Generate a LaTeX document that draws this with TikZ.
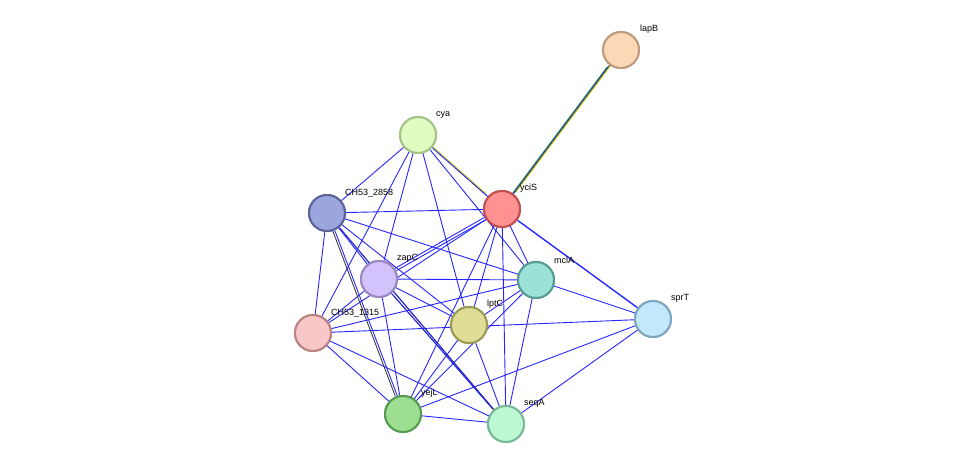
\documentclass[tikz,border=0pt]{standalone}
\usepackage{fontspec}
\setmainfont{Liberation Sans}
\begin{document}
\begin{tikzpicture}[x=1pt,y=-1pt,
 nd/.style={circle,minimum size=36pt,inner sep=0pt,line width=2pt},
 lb/.style={font=\fontsize{9}{10}\selectfont,anchor=south west,inner sep=1pt},
 e/.style={draw=blue!85!white,line width=0.9pt},
 ek/.style={draw=black!75,line width=0.9pt}]
\useasboundingbox (0,0) rectangle (975,470);
\node[nd,fill={rgb,255:red,253;green,216;blue,183},draw={rgb,255:red,190;green,155;blue,125}] (lapB) at (621,50) {};
\node[nd,fill={rgb,255:red,224;green,252;blue,192},draw={rgb,255:red,165;green,195;blue,135}] (cya) at (418,135) {};
\node[nd,fill={rgb,255:red,255;green,145;blue,145},draw={rgb,255:red,195;green,80;blue,80}] (yciS) at (502,209) {};
\node[nd,fill={rgb,255:red,155;green,165;blue,222},draw={rgb,255:red,90;green,100;blue,155}] (c2858) at (327,213) {};
\node[nd,fill={rgb,255:red,210;green,195;blue,252},draw={rgb,255:red,155;green,135;blue,190}] (zapC) at (379,279) {};
\node[nd,fill={rgb,255:red,155;green,225;blue,215},draw={rgb,255:red,85;green,155;blue,145}] (mclA) at (536,280) {};
\node[nd,fill={rgb,255:red,195;green,232;blue,252},draw={rgb,255:red,125;green,165;blue,190}] (sprT) at (653,319) {};
\node[nd,fill={rgb,255:red,224;green,222;blue,150},draw={rgb,255:red,155;green,155;blue,85}] (lptC) at (469,325) {};
\node[nd,fill={rgb,255:red,248;green,200;blue,200},draw={rgb,255:red,185;green,130;blue,130}] (c1315) at (313,333) {};
\node[nd,fill={rgb,255:red,158;green,222;blue,145},draw={rgb,255:red,85;green,155;blue,80}] (yejL) at (403,414) {};
\node[nd,fill={rgb,255:red,190;green,248;blue,210},draw={rgb,255:red,120;green,185;blue,150}] (seqA) at (506,424) {};
\begin{scope}[on background layer/.try]
\end{scope}
% edges drawn before nodes visually via pgf layers not loaded; redraw nodes after
\foreach \a/\b in {cya/c2858,cya/zapC,cya/c1315,cya/lptC,cya/mclA,
 c2858/yciS,c2858/mclA,c2858/zapC,c2858/lptC,c2858/c1315,
 yciS/c1315,yciS/yejL,yciS/lptC,yciS/seqA,yciS/mclA,
 zapC/mclA,zapC/lptC,zapC/yejL,zapC/c1315,
 mclA/c1315,mclA/lptC,mclA/yejL,mclA/seqA,mclA/sprT,
 lptC/yejL,lptC/seqA,c1315/sprT,c1315/yejL,c1315/seqA,
 yejL/seqA,yejL/sprT,seqA/sprT}
 \draw[e] (\a) -- (\b);
\draw[e,transform canvas={shift={(1pt,-1pt)}}] (cya) -- (yciS);
\draw[e,transform canvas={shift={(-1pt,1pt)}}] (cya) -- (yciS);
\draw[draw={rgb,255:red,190;green,205;blue,30},line width=0.9pt,transform canvas={shift={(-2pt,3pt)}}] (cya) -- (yciS);
\draw[e,transform canvas={shift={(1pt,-1pt)}}] (yciS) -- (zapC);
\draw[e,transform canvas={shift={(-1pt,1pt)}}] (yciS) -- (zapC);
\draw[e,transform canvas={shift={(1pt,-1pt)}}] (yciS) -- (sprT);
\draw[e,transform canvas={shift={(-1pt,1pt)}}] (yciS) -- (sprT);
\draw[ek,transform canvas={shift={(-1pt,0pt)}}] (c2858) -- (yejL);
\draw[e,transform canvas={shift={(1.2pt,0pt)}}] (c2858) -- (yejL);
\draw[ek,transform canvas={shift={(1pt,-1pt)}}] (c2858) -- (seqA);
\draw[e,transform canvas={shift={(-1pt,1pt)}}] (c2858) -- (seqA);
\draw[ek,transform canvas={shift={(1pt,-1pt)}}] (zapC) -- (seqA);
\draw[e,transform canvas={shift={(-1pt,1pt)}}] (zapC) -- (seqA);
\draw[draw={rgb,255:red,40;green,180;blue,40},line width=0.9pt,transform canvas={shift={(-2.7pt,-2pt)}}] (yciS) -- (lapB);
\draw[e,transform canvas={shift={(-0.9pt,-0.7pt)}}] (yciS) -- (lapB);
\draw[ek,transform canvas={shift={(0.9pt,0.7pt)}}] (yciS) -- (lapB);
\draw[draw={rgb,255:red,190;green,205;blue,30},line width=0.9pt,transform canvas={shift={(2.7pt,2pt)}}] (yciS) -- (lapB);
% redraw nodes on top
\foreach \n in {lapB,cya,yciS,c2858,zapC,mclA,sprT,lptC,c1315,yejL,seqA}{}
\node[nd,fill={rgb,255:red,253;green,216;blue,183},draw={rgb,255:red,190;green,155;blue,125}] at (621,50) {};
\node[nd,fill={rgb,255:red,224;green,252;blue,192},draw={rgb,255:red,165;green,195;blue,135}] at (418,135) {};
\node[nd,fill={rgb,255:red,255;green,145;blue,145},draw={rgb,255:red,195;green,80;blue,80}] at (502,209) {};
\node[nd,fill={rgb,255:red,155;green,165;blue,222},draw={rgb,255:red,90;green,100;blue,155}] at (327,213) {};
\node[nd,fill={rgb,255:red,210;green,195;blue,252},draw={rgb,255:red,155;green,135;blue,190}] at (379,279) {};
\node[nd,fill={rgb,255:red,155;green,225;blue,215},draw={rgb,255:red,85;green,155;blue,145}] at (536,280) {};
\node[nd,fill={rgb,255:red,195;green,232;blue,252},draw={rgb,255:red,125;green,165;blue,190}] at (653,319) {};
\node[nd,fill={rgb,255:red,224;green,222;blue,150},draw={rgb,255:red,155;green,155;blue,85}] at (469,325) {};
\node[nd,fill={rgb,255:red,248;green,200;blue,200},draw={rgb,255:red,185;green,130;blue,130}] at (313,333) {};
\node[nd,fill={rgb,255:red,158;green,222;blue,145},draw={rgb,255:red,85;green,155;blue,80}] at (403,414) {};
\node[nd,fill={rgb,255:red,190;green,248;blue,210},draw={rgb,255:red,120;green,185;blue,150}] at (506,424) {};
\node[lb] at (639,35) {lapB};
\node[lb] at (435,120) {cya};
\node[lb] at (519,194) {yciS};
\node[lb] at (344,198) {CH53\_2858};
\node[lb] at (396,264) {zapC};
\node[lb] at (553,265) {mclA};
\node[lb] at (670,304) {sprT};
\node[lb] at (486,310) {lptC};
\node[lb] at (330,318) {CH53\_1315};
\node[lb] at (420,399) {yejL};
\node[lb] at (523,409) {seqA};
\end{tikzpicture}
\end{document}
